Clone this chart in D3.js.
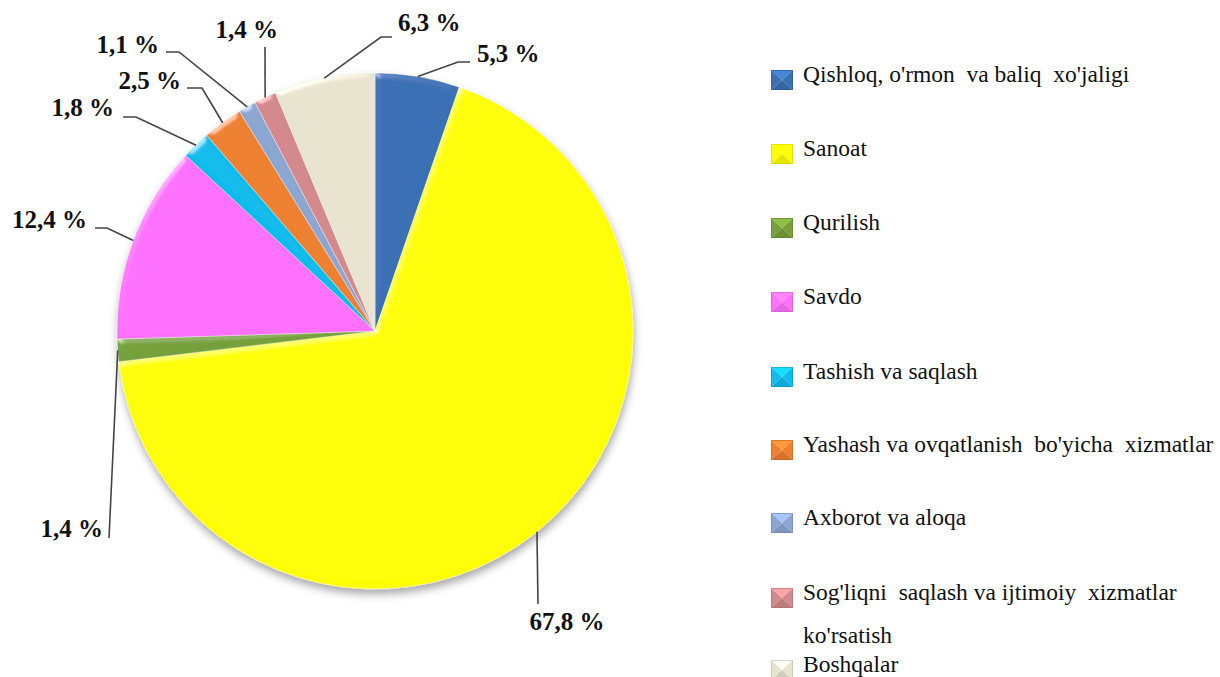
<!DOCTYPE html>
<html>
<head>
<meta charset="utf-8">
<script src="https://cdn.jsdelivr.net/npm/d3@7"></script>
<style>
  html, body { margin: 0; padding: 0; background: #fff; }
  svg { display: block; }
  svg text { font-family: "Liberation Serif", "DejaVu Serif", "Times New Roman", serif; }
</style>
</head>
<body>
<svg id="chart" width="1220" height="677"></svg>
<script>
// ---- data ----
const categories = [
  "Qishloq, o'rmon  va baliq  xo'jaligi",
  "Sanoat",
  "Qurilish",
  "Savdo",
  "Tashish va saqlash",
  "Yashash va ovqatlanish  bo'yicha  xizmatlar",
  "Axborot va aloqa",
  "Sog'liqni  saqlash va ijtimoiy  xizmatlar|ko'rsatish",
  "Boshqalar"
];
const values = [5.3, 67.8, 1.4, 12.4, 1.8, 2.5, 1.1, 1.4, 6.3];
const colors = ["#3A70B4", "#FFFF00", "#76A03A", "#FF70FF", "#10BCEC", "#EE8030", "#8CA6D2", "#D4898C", "#E9E4D0"];

// ---- layout (positions only) ----
const cx = 375, cy = 331, R = 258;
const labelLayout = [
  {elbow: [458, 62], tail: [470, 62], text: [477, 62], anchor: "start"},
  {elbow: [538, 604], tail: null, text: [567, 630], anchor: "middle"},
  {elbow: [109, 538], tail: null, text: [103, 537], anchor: "end"},
  {elbow: [107, 228], tail: [95, 228], text: [87, 228], anchor: "end"},
  {elbow: [136, 117], tail: [123, 117], text: [114, 116], anchor: "end"},
  {elbow: [202, 88], tail: [187, 88], text: [181, 89], anchor: "end"},
  {elbow: [179, 52], tail: [166, 52], text: [159, 53], anchor: "end"},
  {elbow: [265, 47], tail: null, text: [278, 38], anchor: "end"},
  {elbow: [381, 37], tail: [392, 37], text: [398, 31], anchor: "start"}
];
const legendRowsY = [80, 154, 228, 302, 377, 450, 523, 598, 670];

const svg = d3.select("#chart");
const defs = svg.append("defs");

// bevel filter
const bev = defs.append("filter").attr("id", "bevel")
  .attr("x", "-5%").attr("y", "-5%").attr("width", "110%").attr("height", "110%");
bev.append("feGaussianBlur").attr("in", "SourceAlpha").attr("stdDeviation", 3).attr("result", "blur");
const spec = bev.append("feSpecularLighting").attr("in", "blur").attr("surfaceScale", 3)
  .attr("specularConstant", 0.6).attr("specularExponent", 30).attr("lighting-color", "#ffffff").attr("result", "spec");
spec.append("feDistantLight").attr("azimuth", 235).attr("elevation", 25);
bev.append("feComposite").attr("in", "spec").attr("in2", "SourceAlpha").attr("operator", "in").attr("result", "specIn");
bev.append("feComposite").attr("in", "SourceGraphic").attr("in2", "specIn")
  .attr("operator", "arithmetic").attr("k1", 0).attr("k2", 1).attr("k3", 0.6).attr("k4", 0);

// drop shadow
const sh = defs.append("filter").attr("id", "shadow")
  .attr("x", "-10%").attr("y", "-10%").attr("width", "120%").attr("height", "125%");
sh.append("feDropShadow").attr("dx", 1).attr("dy", 5).attr("stdDeviation", 4)
  .attr("flood-color", "#000").attr("flood-opacity", 0.35);

const pie = d3.pie().sort(null).value(d => d);
const arcs = pie(values);
const arc = d3.arc().innerRadius(0).outerRadius(R);

const gPie = svg.append("g").attr("transform", `translate(${cx},${cy})`).attr("filter", "url(#shadow)");
gPie.selectAll("path.slice").data(arcs).join("path")
  .attr("class", "slice")
  .attr("d", arc)
  .attr("fill", (d, i) => colors[i])
  .attr("stroke", "rgba(255,255,255,0.5)")
  .attr("stroke-width", 0.8)
  .attr("filter", "url(#bevel)");

// leader lines & labels
const fmt = v => d3.format(".1f")(v).replace(".", ",") + " %";
const gLab = svg.append("g");
arcs.forEach((a, i) => {
  const mid = (a.startAngle + a.endAngle) / 2;
  const p0 = [cx + R * Math.sin(mid), cy - R * Math.cos(mid)];
  const L = labelLayout[i];
  const pts = [p0, L.elbow];
  if (L.tail) pts.push(L.tail);
  gLab.append("path")
    .attr("d", d3.line()(pts))
    .attr("fill", "none")
    .attr("stroke", "#444")
    .attr("stroke-width", 1.6);
  gLab.append("text")
    .attr("x", L.text[0]).attr("y", L.text[1])
    .attr("text-anchor", L.anchor)
    .attr("font-weight", "bold")
    .attr("font-size", 25)
    .attr("fill", "#111")
    .text(fmt(values[i]));
});

// legend
const gLeg = svg.append("g");
const mx = 771, mw = 22, mh = 20;
categories.forEach((c, i) => {
  const y = legendRowsY[i];
  const col = d3.color(colors[i]);
  const x0 = mx, y0 = y - mh / 2, x1 = mx + mw, y1 = y + mh / 2, xc = mx + mw / 2, yc = y;
  const g = gLeg.append("g");
  const tri = [
    {p: [[x0, y0], [x1, y0], [xc, yc]], c: col.brighter(0.5)},
    {p: [[x1, y0], [x1, y1], [xc, yc]], c: col},
    {p: [[x0, y1], [x1, y1], [xc, yc]], c: col.darker(0.3)},
    {p: [[x0, y0], [x0, y1], [xc, yc]], c: col}
  ];
  tri.forEach(t => g.append("path").attr("d", d3.line()(t.p) + "Z").attr("fill", t.c));
  g.append("rect").attr("x", x0 + 0.5).attr("y", y0 + 0.5).attr("width", mw - 1).attr("height", mh - 1)
    .attr("fill", "none").attr("stroke", col.darker(0.6)).attr("stroke-width", 1).attr("opacity", 0.6);
  const lines = c.split("|");
  lines.forEach((ln, k) => {
    gLeg.append("text")
      .attr("x", 803).attr("y", y + 2 + k * 43)
      .attr("font-size", 23.5)
      .attr("fill", "#111")
      .style("white-space", "pre")
      .attr("xml:space", "preserve")
      .text(ln);
  });
});
</script>
</body>
</html>
